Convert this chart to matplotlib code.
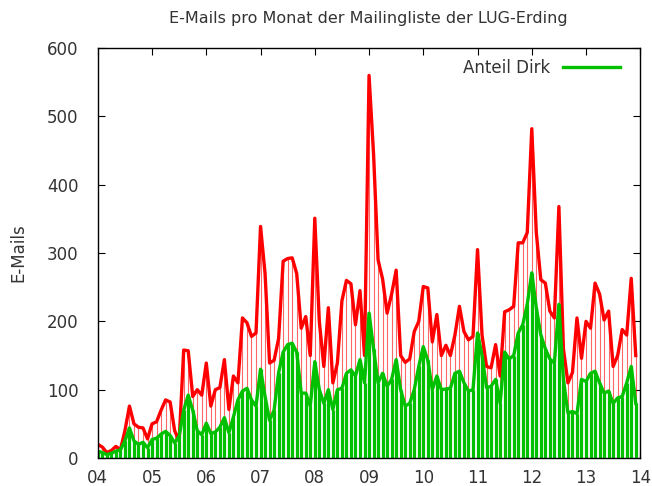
import numpy as np
import matplotlib
matplotlib.use("Agg")
import matplotlib.pyplot as plt

# monthly mail counts, Jan 2004 .. Dec 2013
total = [20, 16, 8, 11, 17, 12, 40, 76, 50, 45, 44, 28,
         50, 53, 70, 85, 82, 40, 25, 158, 157, 90, 100, 92,
         139, 76, 100, 103, 144, 71, 120, 110, 205, 198, 178, 183,
         339, 270, 139, 143, 175, 288, 292, 293, 270, 190, 207, 150,
         351, 200, 134, 220, 110, 139, 230, 260, 255, 195, 245, 150,
         560, 445, 290, 262, 212, 240, 275, 150, 140, 145, 185, 200,
         251, 249, 170, 210, 150, 165, 150, 180, 222, 185, 173, 178,
         305, 180, 134, 132, 166, 120, 214, 217, 222, 315, 315, 330,
         482, 330, 261, 256, 215, 205, 368, 160, 110, 125, 205, 146,
         200, 190, 256, 240, 202, 215, 134, 150, 188, 180, 263, 150]

dirk = [10, 8, 5, 7, 10, 12, 25, 44, 25, 20, 23, 15,
        27, 29, 35, 39, 33, 22, 32, 70, 92, 70, 40, 34,
        51, 36, 38, 45, 59, 37, 60, 85, 98, 102, 85, 76,
        130, 90, 55, 70, 125, 155, 166, 168, 155, 95, 95, 76,
        141, 100, 80, 100, 71, 100, 102, 124, 129, 120, 144, 110,
        212, 160, 110, 124, 105, 115, 144, 100, 76, 80, 100, 134,
        163, 143, 100, 120, 100, 101, 102, 124, 127, 110, 98, 100,
        183, 150, 103, 105, 115, 80, 155, 145, 150, 183, 195, 225,
        271, 220, 180, 160, 145, 139, 225, 115, 66, 68, 65, 115,
        112, 124, 127, 110, 95, 98, 80, 88, 90, 110, 134, 80]

year_ticks = np.arange(2004, 2015)
year_labels = ["%02d" % (y % 100) for y in year_ticks]

t = 2004 + np.arange(len(total)) / 12.0
red = "#ff0000"
green = "#00c000"
grey = "#333333"

fig = plt.figure(figsize=(6.52, 4.86), dpi=100)
ax = fig.add_axes([0.150, 0.0576, 0.832, 0.8434])

ax.vlines(t, 0, total, color=red, lw=0.8, alpha=0.6)
ax.plot(t, total, color=red, lw=2.4)
ax.vlines(t, 0, dirk, color=green, lw=2.3)
ax.plot(t, dirk, color=green, lw=2.4, label="Anteil Dirk")

ax.set_xlim(2004, 2014)
ax.set_ylim(0, 600)
ax.set_xticks(year_ticks)
ax.set_xticklabels(year_labels)
ax.set_yticks(np.arange(0, 601, 100))
ax.tick_params(direction="in", top=True, right=True, length=5,
               labelsize=12, colors="black")
ax.tick_params(axis="y", pad=14)
ax.tick_params(axis="x", pad=8)
for lab in ax.get_xticklabels() + ax.get_yticklabels():
    lab.set_color(grey)
for s in ax.spines.values():
    s.set_linewidth(1.0)

ax.set_ylabel("E-Mails", fontsize=12, color=grey, labelpad=14)
fig.suptitle("E-Mails pro Monat der Mailingliste der LUG-Erding",
             fontsize=11.5, color=grey, x=0.565, y=0.978)

leg = ax.legend(loc="upper right", bbox_to_anchor=(0.99, 1.01),
                frameon=False, fontsize=12, handlelength=3.4,
                markerfirst=False, handletextpad=0.8)
for txt in leg.get_texts():
    txt.set_color(grey)

fig.savefig("out.png", dpi=100)
